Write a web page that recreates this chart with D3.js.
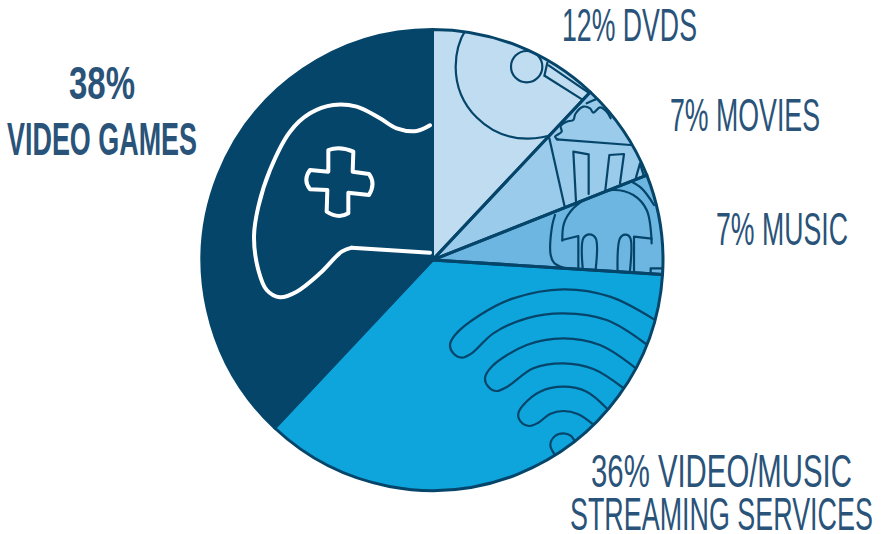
<!DOCTYPE html>
<html>
<head>
<meta charset="utf-8">
<script src="https://cdn.jsdelivr.net/npm/d3@7/dist/d3.min.js"></script>
<style>
html,body{margin:0;background:#fff}
svg{display:block}
text{font-family:"Liberation Sans Narrow","Liberation Sans",sans-serif;fill:#2a5379}
</style>
</head>
<body>
<svg id="chart" width="883" height="534"></svg>
<script>
const categories = ["DVDs", "Movies", "Music", "Video/music streaming services", "Video games"];
const shares = [12, 7, 7, 36, 38];
const fills = ["#bfdcf1", "#9acbea", "#6db6e2", "#0ea4dc", "#06456a"];
const labelLines = [
  [{t:"12% DVDS", x:562, y:41, w:135}],
  [{t:"7% MOVIES", x:670, y:131, w:150}],
  [{t:"7% MUSIC", x:716, y:245, w:132}],
  [{t:"36% VIDEO/MUSIC", x:591, y:487, w:261}, {t:"STREAMING SERVICES", x:570, y:530, w:303}],
  [{t:"38%", x:69, y:99, w:66, b:1}, {t:"VIDEO GAMES", x:7, y:155, w:190, b:1}]
];

const cx = 432.5, cy = 260, radius = 230.5;
const ink = "#06456a";
const svg = d3.select("#chart");
const pie = d3.pie().sort(null).value(d => d)(shares);
const arc = d3.arc().innerRadius(0).outerRadius(radius);
const root = svg.append("g").attr("transform", `translate(${cx},${cy})`);

// Each icon is clipped to the wedge it sits in.
svg.append("defs").selectAll("clipPath").data(pie).join("clipPath")
  .attr("id", (d, i) => "wedge" + i)
  .append("path").attr("transform", `translate(${cx},${cy})`).attr("d", arc);

root.selectAll("path.slice").data(pie).join("path")
  .attr("class", "slice")
  .attr("fill", (d, i) => fills[i])
  .attr("d", arc);

const smooth = d3.line().curve(d3.curveCatmullRom.alpha(0.5));
const straight = d3.line();

// Icon outlines, drawn in a 3x local grid anchored at each icon's origin.
function icon(sliceIndex, ox, oy, color, width, draw) {
  const g = svg.append("g").attr("clip-path", `url(#wedge${sliceIndex})`)
    .append("g").attr("transform", `translate(${ox},${oy}) scale(${1/3})`)
    .attr("fill", "none").attr("stroke", color).attr("stroke-width", width * 3)
    .attr("stroke-linejoin", "round").attr("stroke-linecap", "round");
  draw(g);
}
const add = (g, d) => g.append("path").attr("d", d);

// Disc and player arm
icon(0, 430, 20, ink, 2.2, g => {
  g.append("circle").attr("cx", 290).attr("cy", 140).attr("r", 47);
  g.append("circle").attr("cx", 293).attr("cy", 140).attr("r", 216);
  add(g, straight([[345,168],[462,242]]));
  add(g, straight([[356,136],[482,222]]));
  add(g, straight([[352,128],[343,168]]));
});

// Popcorn tub
icon(1, 430, 20, ink, 2.2, g => {
  add(g, smooth([[383,358],[375,350],[395,335],[392,318],[410,305],[430,300],[436,282],[460,260],[480,265],[490,278],[510,262],[530,275],[542,295]]));
  add(g, straight([[380,358],[602,375]]));
  add(g, straight([[358,355],[405,565]]));
  add(g, straight([[438,545],[430,395],[476,403],[476,522]]));
  add(g, straight([[526,510],[538,405],[582,402],[570,490]]));
  add(g, straight([[618,472],[630,430],[642,470]]));
  add(g, straight([[470,250],[497,238]]));
});

// Headphones
icon(2, 430, 20, ink, 2.2, g => {
  add(g, smooth([[397,662],[402,610],[430,565],[480,530],[550,510],[610,525],[650,570],[665,670]]));
  add(g, straight([[397,660],[445,648],[445,760]]));
  add(g, smooth([[460,765],[460,655],[478,643],[497,655],[495,765]]));
  add(g, smooth([[563,770],[570,655],[585,644],[600,652],[598,770]]));
  add(g, straight([[612,770],[612,650],[665,656]]));
  add(g, smooth([[375,585],[366,620],[362,705],[372,728],[397,742]]));
  add(g, straight([[397,742],[397,760]]));
  add(g, smooth([[595,480],[635,505],[672,555]]));
  add(g, straight([[662,775],[662,745],[696,745]]));
});

// Wi-Fi waves
icon(3, 430, 270, ink, 2.2, g => {
  add(g, smooth([[672,148],[540,80],[400,58],[250,85],[150,135],[75,195],[60,225],[70,250],[95,263],[125,250],[190,190],[290,145],[400,130],[530,150],[648,222]]));
  add(g, smooth([[614,292],[510,225],[400,205],[290,225],[185,290],[165,325],[175,350],[200,363],[232,350],[310,295],[400,280],[490,297],[580,354]]));
  add(g, smooth([[530,415],[470,365],[400,350],[330,365],[280,405],[265,430],[272,455],[298,468],[325,458],[360,432],[400,423],[445,433],[490,464]]));
  add(g, smooth([[375,555],[361,525],[375,498],[400,490],[422,497],[436,518]]));
});

// Game controller
icon(4, 240, 100, "#ffffff", 4, g => {
  add(g, smooth([[570,76],[530,93],[470,85],[420,55],[350,20],[280,15],[210,40],[150,95],[90,210],[55,320],[42,410],[55,510],[80,570],[120,592],[170,575],[240,520],[305,455],[335,443]]));
  add(g, straight([[335,443],[570,458]]));
  add(g, "M265,150 Q300,137 340,155 L338,215 L387,222 Q408,250 387,285 L325,278 L325,340 Q295,358 260,335 L262,270 L210,268 Q188,240 210,210 L265,215 Z");
});

// Wedge borders sit above the icons.
root.selectAll("path.edge").data(pie).join("path")
  .attr("class", "edge")
  .attr("fill", "none").attr("stroke", ink).attr("stroke-width", 3)
  .attr("stroke-linejoin", "round")
  .attr("d", arc);

// Labels are squeezed horizontally to the narrow column each one occupies.
svg.append("g").selectAll("text").data(labelLines.flat()).join("text")
  .attr("font-size", 47)
  .attr("font-weight", d => d.b ? 700 : 400)
  .text(d => d.t)
  .attr("transform", function(d) {
    return `translate(${d.x},${d.y}) scale(${d.w / this.getComputedTextLength()},1)`;
  });
</script>
</body>
</html>
